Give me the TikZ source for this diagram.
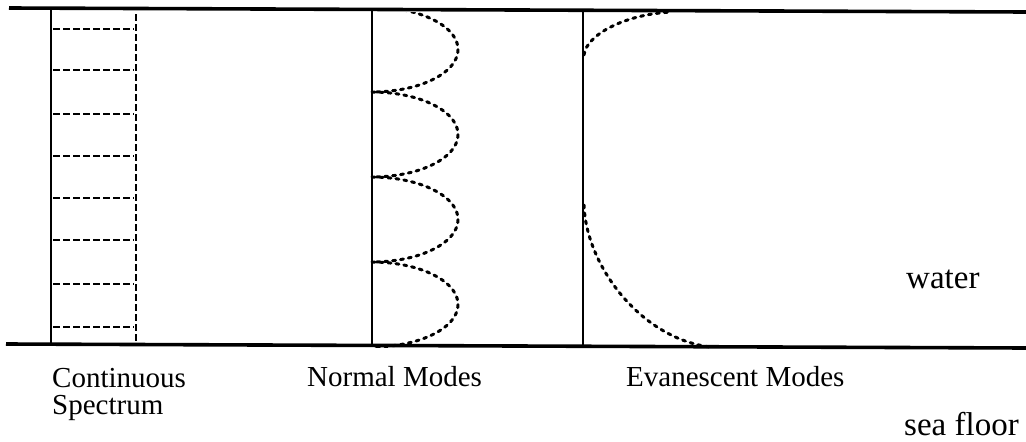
\documentclass[tikz,border=0pt]{standalone}
\usepackage{fontspec}
\setmainfont{Liberation Serif}
\begin{document}
\begin{tikzpicture}[x=1pt,y=-1pt,
  surface/.style={line width=3.6pt},
  axis/.style={line width=2.4pt},
  ladder/.style={line width=2.8pt, dash pattern=on 6.5pt off 3.5pt},
  mode/.style={line width=3pt, line cap=round, dash pattern=on 3pt off 5pt},
  lbl/.style={inner sep=0pt, anchor=base west, font=\fontsize{29}{27}\selectfont},
  big/.style={inner sep=0pt, anchor=base west, font=\fontsize{33}{33}\selectfont}]
\useasboundingbox (0,0) rectangle (1026,442);
% surface and sea floor
\draw[surface] (9,8) -- (1026,12);
\draw[surface] (6,344) -- (1026,348);
% continuous spectrum
\draw[axis] (51,8) -- (51,344);
\draw[ladder] (136,14) -- (136,344);
\foreach \yy in {29,70,114,156,198,240,284,327}
  \draw[ladder] (53,\yy) -- (134,\yy);
% normal modes
\draw[axis] (372,11) -- (372,347);
\begin{scope}
  \clip (300,12) rectangle (520,347);
  \foreach \cc in {49.5,134.5,219.5,304.5}
    \draw[mode] plot[domain=-90:90, samples=50, variable=\t]
      ({372+86*cos(\t)}, {\cc+42.5*sin(\t)});
\end{scope}
% evanescent modes
\draw[axis] (583,12) -- (583,347);
\draw[mode] (584,55) .. controls (586,35) and (625,14) .. (672,12);
\draw[mode] (584,205) .. controls (586,265) and (640,338) .. (710,347);
% labels
\node[lbl, align=left] (cont) at (52,414) {Continuous\\Spectrum};
\node[lbl] (norm) at (307,386) {Normal Modes};
\node[lbl] (evan) at (626,386) {Evanescent Modes};
\node[big] (water) at (906,288) {water};
\node[big] (sea) at (904,435) {sea floor};
\end{tikzpicture}
\end{document}
